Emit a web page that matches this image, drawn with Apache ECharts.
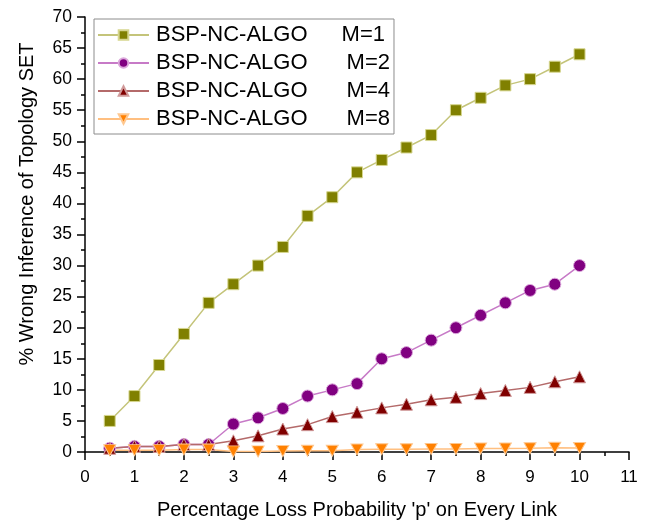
<!DOCTYPE html>
<html>
<head>
<meta charset="utf-8">
<script src="https://cdn.jsdelivr.net/npm/echarts@6/dist/echarts.min.js"></script>
<style>
  html, body { margin: 0; padding: 0; background: #fff; }
  #chart { width: 648px; height: 525px; }
</style>
</head>
<body>
<div id="chart"></div>
<script>
// Loss probability p (%) on every link
const lossP = [0.5, 1, 1.5, 2, 2.5, 3, 3.5, 4, 4.5, 5, 5.5, 6, 6.5, 7, 7.5, 8, 8.5, 9, 9.5, 10];

// % wrong inference of the topology set, per multiplicity M
const wrongM1 = [5, 9, 14, 19, 24, 27, 30, 33, 38, 41, 45, 47, 49, 51, 55, 57, 59, 60, 62, 64];
const wrongM2 = [0.6, 0.9, 0.9, 1.2, 1.2, 4.5, 5.5, 7, 9, 10, 11, 15, 16, 18, 20, 22, 24, 26, 27, 30];
const wrongM4 = [0.6, 0.9, 0.9, 1.2, 1.2, 1.8, 2.6, 3.7, 4.4, 5.7, 6.4, 7.1, 7.7, 8.4, 8.8, 9.4, 9.9, 10.4, 11.3, 12.1];
const wrongM8 = [0.3, 0.3, 0.3, 0.4, 0.4, 0.1, 0.1, 0.15, 0.2, 0.2, 0.4, 0.45, 0.45, 0.5, 0.5, 0.55, 0.55, 0.6, 0.7, 0.65];

const xTicks = { min: 0, max: 11, step: 1 };
const yTicks = { min: 0, max: 70, step: 5 };

const algoName = 'BSP-NC-ALGO';
const mLabels = ['M=1', 'M=2', 'M=4', 'M=8'];
const seriesNames = mLabels.map(m => algoName + ' ' + m);

const pairs = vals => lossP.map((p, i) => [p, vals[i]]);

const chart = echarts.init(document.getElementById('chart'), null, { renderer: 'canvas' });

const font = 'Liberation Sans, Arial, sans-serif';

function lineSeries(name, vals, symbol, size, fill, border, line) {
  return {
    name: name,
    type: 'line',
    data: pairs(vals),
    symbol: symbol,
    symbolSize: size,
    showAllSymbol: true,
    itemStyle: { color: fill, borderColor: border, borderWidth: 1 },
    lineStyle: { color: line, width: 1.5 },
    emphasis: { disabled: true },
    animation: false,
    z: 2
  };
}

chart.setOption({
  backgroundColor: '#ffffff',
  animation: false,
  textStyle: { fontFamily: font },
  grid: { left: 85, right: 19, top: 17, bottom: 71, containLabel: false },
  xAxis: {
    type: 'value',
    min: xTicks.min, max: xTicks.max, interval: xTicks.step,
    axisLine: { show: true, onZero: false, lineStyle: { color: '#000', width: 1.5 } },
    axisTick: { show: true, inside: false, length: 8, lineStyle: { color: '#000', width: 1.5 } },
    minorTick: { show: true, splitNumber: 2, length: 4, lineStyle: { color: '#000', width: 1.5 } },
    splitLine: { show: false },
    axisLabel: { color: '#000', fontSize: 17, margin: 17, fontFamily: font },
    name: "Percentage Loss Probability 'p' on Every Link",
    nameLocation: 'middle',
    nameGap: 48,
    nameTextStyle: { color: '#000', fontSize: 20, fontFamily: font }
  },
  yAxis: {
    type: 'value',
    min: yTicks.min, max: yTicks.max, interval: yTicks.step,
    axisLine: { show: true, onZero: false, lineStyle: { color: '#000', width: 1.5 } },
    axisTick: { show: true, inside: false, length: 8, lineStyle: { color: '#000', width: 1.5 } },
    minorTick: { show: true, splitNumber: 2, length: 4, lineStyle: { color: '#000', width: 1.5 } },
    splitLine: { show: false },
    axisLabel: { color: '#000', fontSize: 17.5, margin: 13, fontFamily: font }
  },
  graphic: [{
    type: 'text',
    x: 27, y: 204,
    rotation: Math.PI / 2,
    style: {
      text: '% Wrong Inference of Topology SET',
      fill: '#000',
      font: '20px ' + font,
      textAlign: 'center',
      textVerticalAlign: 'middle'
    }
  }],
  legend: {
    left: 94, top: 19,
    orient: 'vertical',
    backgroundColor: '#fff',
    borderColor: '#8c8c8c',
    borderWidth: 1,
    padding: [4, 4, 3, 3],
    itemWidth: 51,
    itemHeight: 12,
    itemGap: 4,
    selectedMode: false,
    data: seriesNames,
    formatter: function (name) {
      const i = seriesNames.indexOf(name);
      return '{a|' + algoName + '}{' + (i === 0 ? 'm1' : 'm2') + '|' + mLabels[i] + '}';
    },
    textStyle: {
      color: '#000', fontSize: 22, fontFamily: font, lineHeight: 24,
      rich: {
        a: { fontSize: 22, lineHeight: 24, color: '#000', fontFamily: font, padding: [0, 0, 0, 2] },
        m1: { fontSize: 22, lineHeight: 24, color: '#000', fontFamily: font, padding: [0, 0, 0, 34] },
        m2: { fontSize: 22, lineHeight: 24, color: '#000', fontFamily: font, padding: [0, 0, 0, 39] }
      }
    }
  },
  series: [
    lineSeries(seriesNames[0], wrongM1, 'rect', 11, '#808000', '#d6d68f', '#c4c47a'),
    lineSeries(seriesNames[1], wrongM2, 'circle', 12, '#800080', '#dca8dc', '#c77ac7'),
    lineSeries(seriesNames[2], wrongM4, 'triangle', 12, '#800000', '#d09a9a', '#b46a6a'),
    lineSeries(seriesNames[3], wrongM8, 'path://M0,0 L10,0 L5,9 Z', [12, 11], '#ff8000', '#ffc890', '#ffbf80')
  ]
});
</script>
</body>
</html>
